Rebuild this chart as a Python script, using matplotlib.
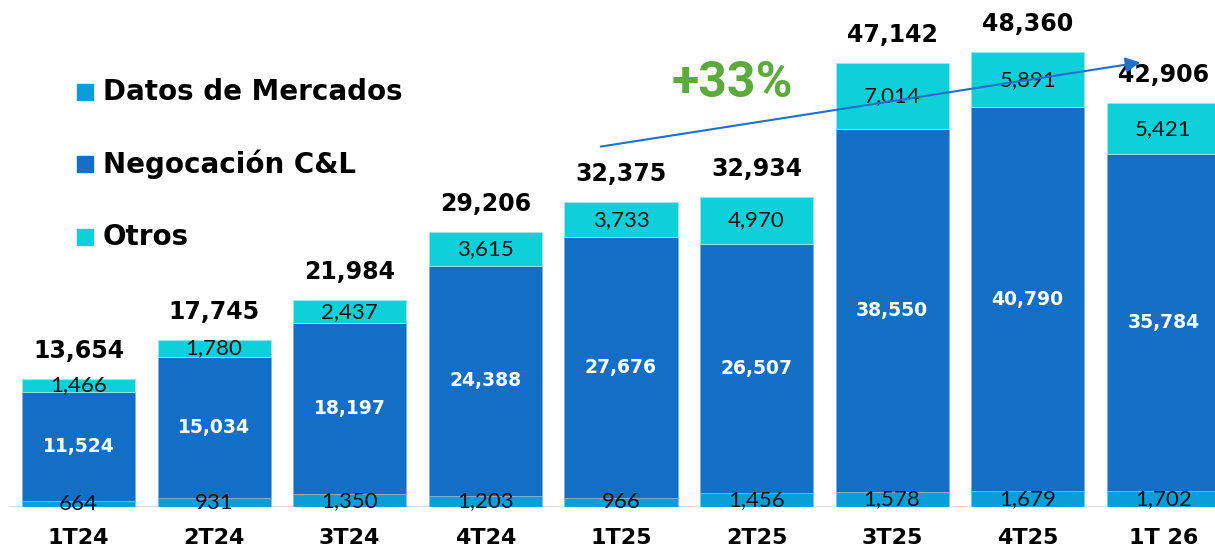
import matplotlib
matplotlib.use('Agg')
import matplotlib.pyplot as plt
import numpy as np

# Datos por trimestre
trimestres = ['1T24', '2T24', '3T24', '4T24', '1T25', '2T25', '3T25', '4T25', '1T 26']
datos_mercados = [664, 931, 1350, 1203, 966, 1456, 1578, 1679, 1702]
negociacion = [11524, 15034, 18197, 24388, 27676, 26507, 38550, 40790, 35784]
otros = [1466, 1780, 2437, 3615, 3733, 4970, 7014, 5891, 5421]
totales = [13654, 17745, 21984, 29206, 32375, 32934, 47142, 48360, 42906]
series = ['Datos de Mercados', 'Negocación C&L', 'Otros']

c_datos = '#0a9ed9'
c_neg = '#136fc6'
c_otros = '#0dd0d8'

plt.rcParams['font.family'] = ['DejaVu Sans']

fig = plt.figure(figsize=(12.15, 5.49), dpi=100)
ax = fig.add_axes([0, 42 / 549, 1, 507 / 549])

x = np.arange(len(trimestres))
w = 0.835
b1 = np.array(datos_mercados)
b2 = b1 + np.array(negociacion)

ax.bar(x, datos_mercados, w, color=c_datos, edgecolor='#7fc3ea', linewidth=0.6)
ax.bar(x, negociacion, w, bottom=b1, color=c_neg, edgecolor='#7fb0e0', linewidth=0.6)
ax.bar(x, otros, w, bottom=b2, color=c_otros, edgecolor='#9ee6ea', linewidth=0.6)

ax.set_xlim(-0.579, 8.381)
ax.set_ylim(0, 53880)
for s in ax.spines.values():
    s.set_visible(False)
ax.set_yticks([])
ax.set_xticks(x)
ax.set_xticklabels(trimestres, fontsize=16, fontweight='bold')
ax.tick_params(axis='x', length=0, pad=15)
ax.axhline(0, xmin=10 / 1215, xmax=1, color='#d9d9d9', linewidth=1.5, zorder=0)

fino = dict(family=['Lato', 'DejaVu Sans'], fontweight='normal', fontsize=16, color='#111111')
for i in range(len(trimestres)):
    ax.text(x[i], datos_mercados[i] / 2, f'{datos_mercados[i]:,}', ha='center', va='center', **fino)
    ax.text(x[i], b1[i] + negociacion[i] / 2, f'{negociacion[i]:,}', ha='center', va='center',
            fontsize=13.5, fontweight='bold', color='white')
    ax.text(x[i], b2[i] + otros[i] / 2, f'{otros[i]:,}', ha='center', va='center', **fino)
    ax.annotate(f'{totales[i]:,}', (x[i], totales[i]), xytext=(0, 16), textcoords='offset pixels',
                ha='center', va='bottom', fontsize=17, fontweight='bold', color='black')

# Leyenda
for j, (nombre, col) in enumerate(zip(series, [c_datos, c_neg, c_otros])):
    yy = 1 - (92 + 72.5 * j) / 549
    fig.patches.append(plt.Rectangle((77 / 1215, yy - 8 / 549), 16 / 1215, 16 / 549,
                                     transform=fig.transFigure, color=col))
    fig.text(103 / 1215, yy, nombre, ha='left', va='center', fontsize=20, fontweight='bold')

# Flecha de crecimiento
ax.annotate('', xy=(1143 / 1215, 1 - 62 / 549), xytext=(598 / 1215, 1 - 147 / 549),
            xycoords='figure fraction', textcoords='figure fraction',
            arrowprops=dict(arrowstyle='-|>', color='#1f6fcf', lw=1.5, mutation_scale=22))
fig.text(732 / 1215, 1 - 84 / 549, '+33%', ha='center', va='center', fontsize=36,
         family=['Roboto', 'DejaVu Sans'], fontweight='bold', color='#5aab3c')

plt.savefig('out.png', dpi=100)
